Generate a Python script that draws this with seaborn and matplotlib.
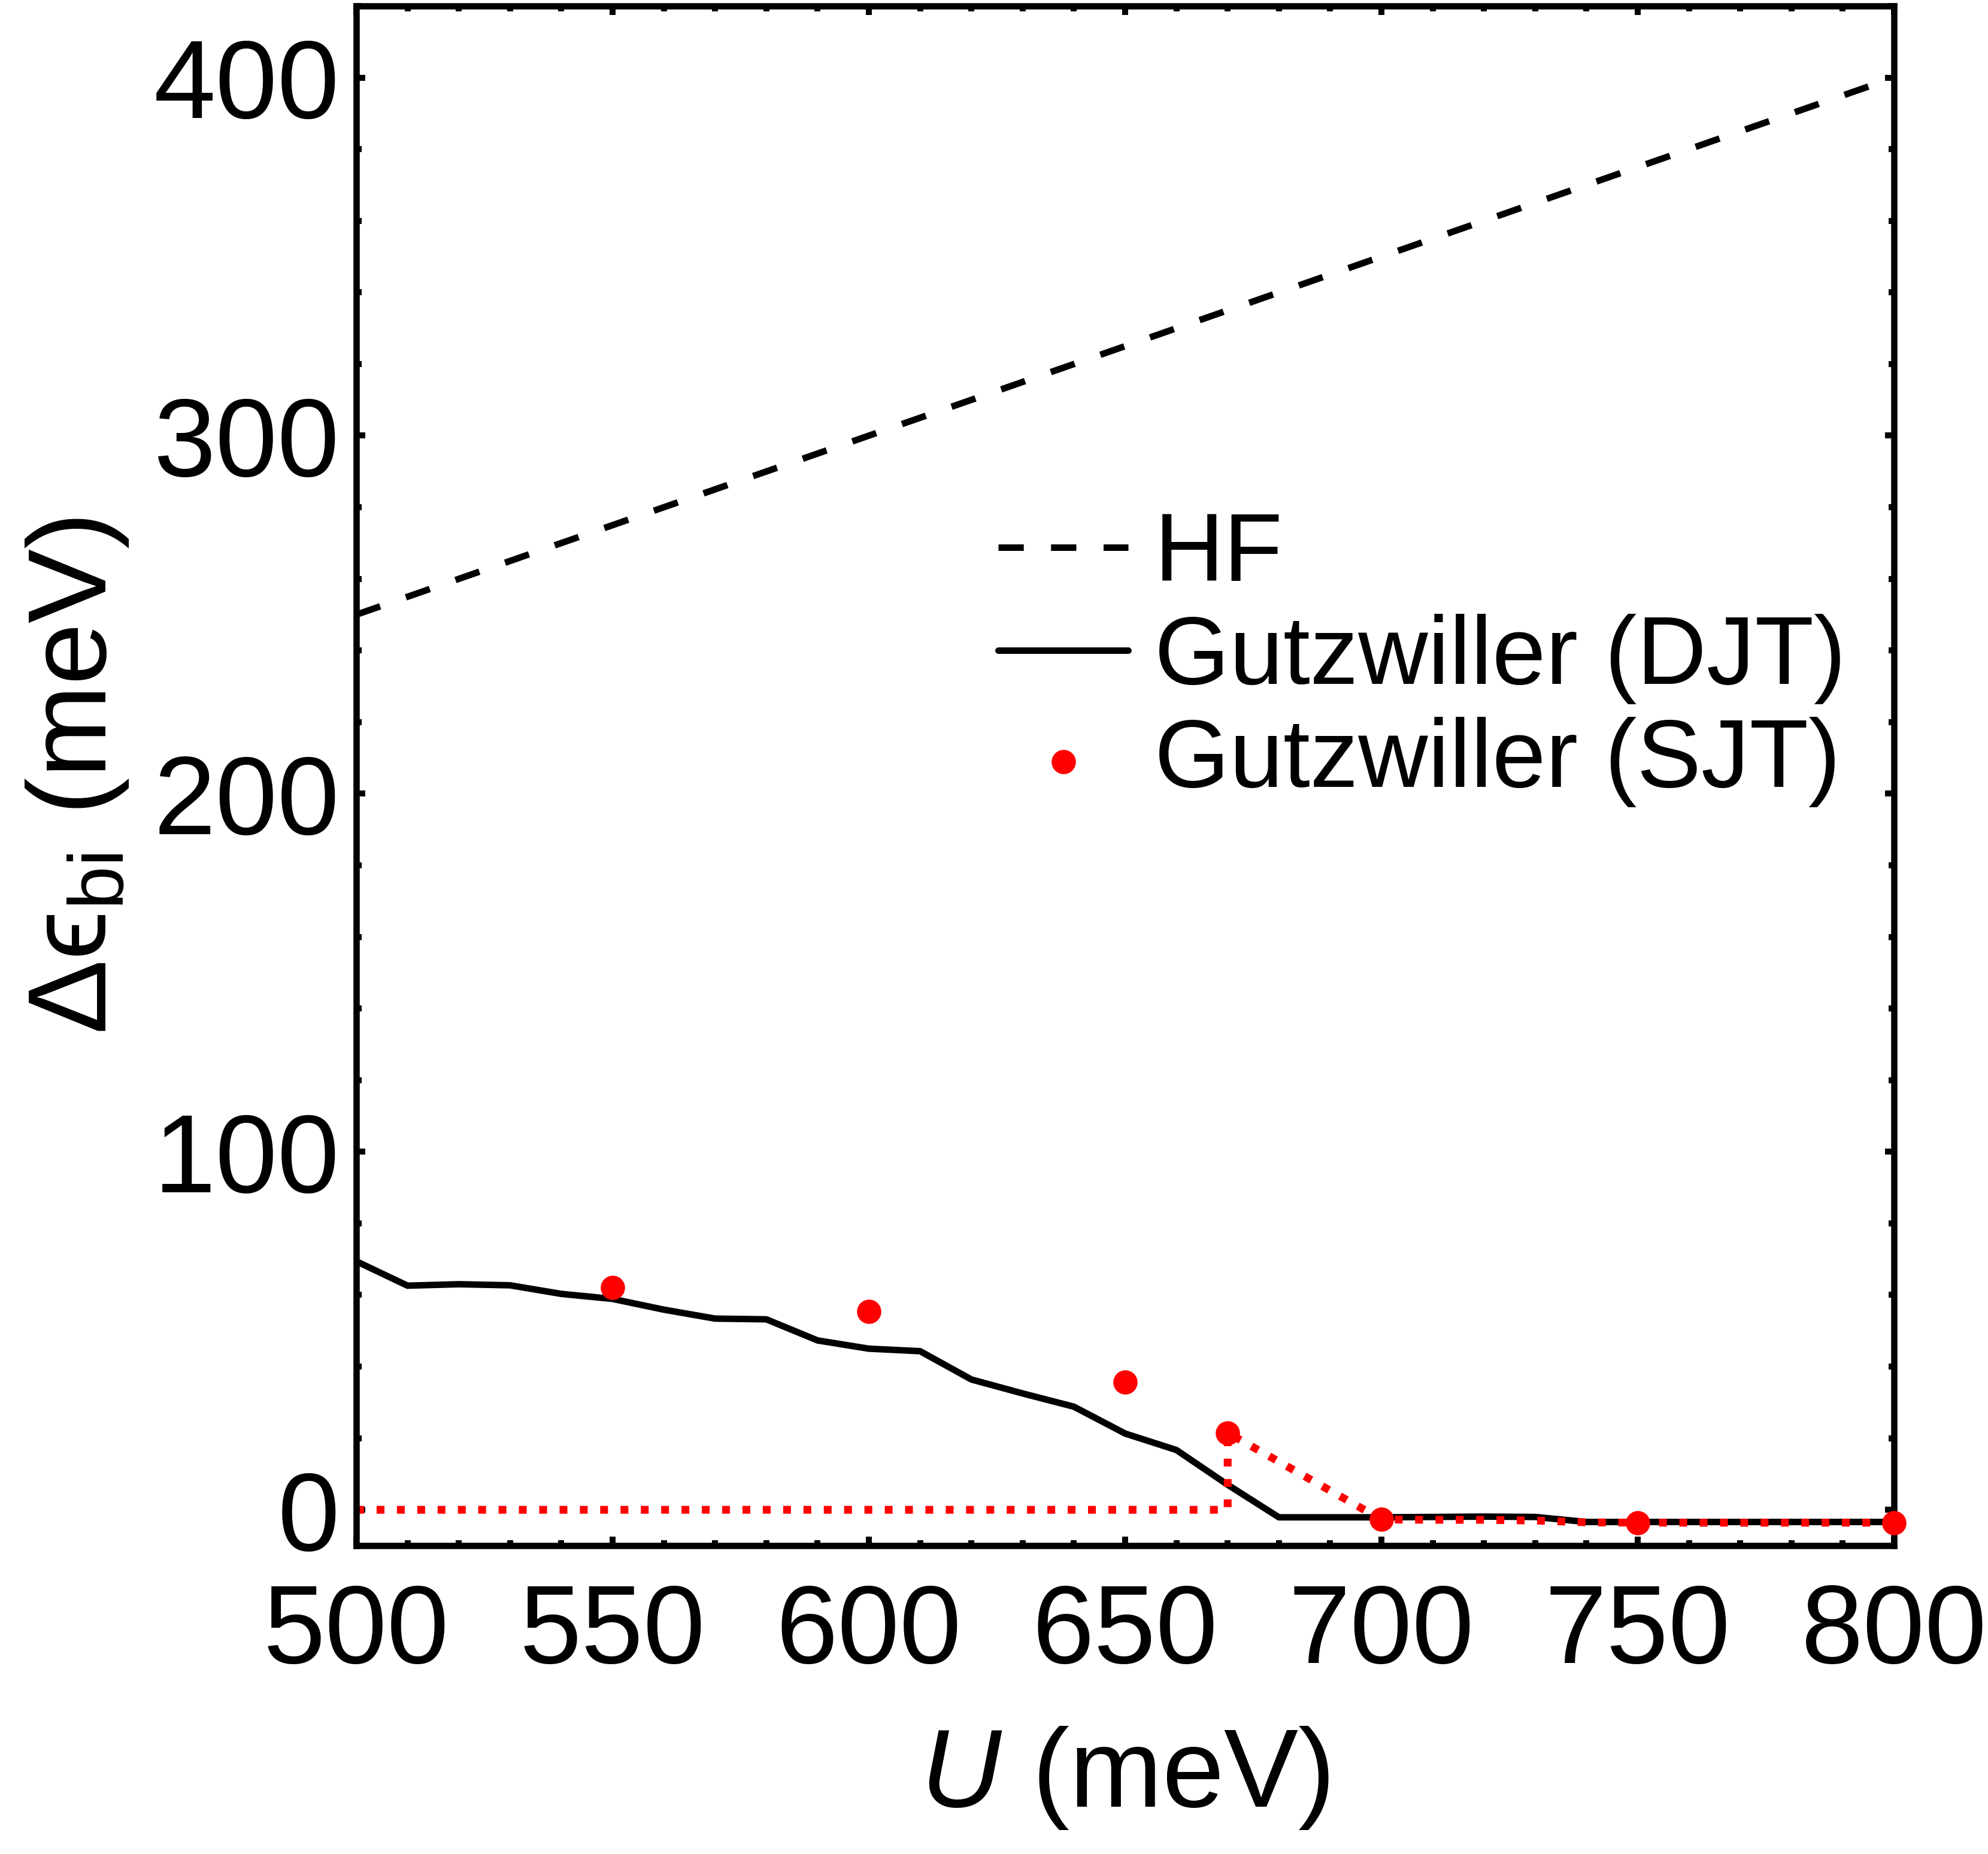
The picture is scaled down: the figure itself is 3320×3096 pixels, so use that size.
import numpy as np
import pandas as pd
import matplotlib
matplotlib.use("Agg")
import matplotlib.pyplot as plt
import seaborn as sns

# ---------------- data ----------------
U_hf = [500, 800]
gap_hf = [250, 400]

U_djt = [500, 510, 520, 530, 540, 550, 560, 570, 580, 590, 600, 610, 620, 630, 640,
         650, 660, 670, 680, 690, 700, 710, 720, 730, 740, 750, 760, 770, 780, 790, 800]
gap_djt = [69.4, 62.6, 63.0, 62.7, 60.3, 58.9, 55.9, 53.4, 53.2, 47.3, 45.0, 44.3, 36.4, 32.5, 28.8,
           21.3, 16.7, 7.0, -2.1, -2.1, -2.1, -2.0, -1.9, -2.0, -3.4, -3.4, -3.4, -3.4, -3.4, -3.4, -3.4]

U_sjt_pts = [550, 600, 650, 670, 700, 750, 800]
gap_sjt_pts = [62.1, 55.4, 35.6, 21.5, -2.7, -3.6, -3.6]

U_sjt_line = [500, 670, 670, 700, 710, 720, 730, 740, 750, 800]
gap_sjt_line = [0.0, 0.0, 21.5, -2.7, -2.8, -2.8, -3.0, -3.5, -3.6, -3.6]

xticks = [500, 550, 600, 650, 700, 750, 800]
yticks = [0, 100, 200, 300, 400]

# ---------------- style ----------------
sns.set_style("ticks")
plt.rcParams["font.family"] = ["Liberation Sans", "DejaVu Sans"]
plt.rcParams["mathtext.fontset"] = "custom"
plt.rcParams["mathtext.rm"] = "Liberation Sans"
plt.rcParams["mathtext.it"] = "Liberation Sans:italic"
plt.rcParams["mathtext.bf"] = "Liberation Sans:bold"
plt.rcParams["mathtext.fallback"] = "stixsans"
for k in ["text.color", "axes.labelcolor", "xtick.color", "ytick.color", "axes.edgecolor"]:
    plt.rcParams[k] = "black"

fig = plt.figure(figsize=(16.6, 15.48), dpi=200)
ax = fig.add_axes([0.17922, 0.16634, 0.77349, 0.83043])

df_hf = pd.DataFrame({"U": U_hf, "gap": gap_hf})
df_djt = pd.DataFrame({"U": U_djt, "gap": gap_djt})
df_pts = pd.DataFrame({"U": U_sjt_pts, "gap": gap_sjt_pts})
df_sl = pd.DataFrame({"U": U_sjt_line, "gap": gap_sjt_line})

sns.lineplot(data=df_hf, x="U", y="gap", ax=ax, color="black", lw=3.9,
             label="HF", estimator=None, sort=False)
ax.lines[-1].set_dashes([3.9, 4.2])
sns.lineplot(data=df_djt, x="U", y="gap", ax=ax, color="black", lw=3.9,
             label="Gutzwiller (DJT)", estimator=None, sort=False)
sns.lineplot(data=df_sl, x="U", y="gap", ax=ax, color="#ff0000", lw=4.7,
             estimator=None, sort=False, legend=False)
ax.lines[-1].set_dashes([1.0, 1.6])
sns.scatterplot(data=df_pts, x="U", y="gap", ax=ax, color="#ff0000", s=14.6**2,
                linewidth=0, label="Gutzwiller (SJT)", zorder=5, clip_on=False)

ax.set_xlim(500, 800)
ax.set_ylim(-10, 420)
ax.set_xticks(xticks)
ax.set_yticks(yticks)
ax.set_xticks(np.arange(500, 801, 10), minor=True)
ax.set_yticks(np.arange(0, 421, 20), minor=True)

for s in ax.spines.values():
    s.set_linewidth(3.8)
    s.set_color("black")

ax.tick_params(which="both", direction="in", top=True, right=True, width=3.6, color="black")
ax.tick_params(which="major", length=5.4)
ax.tick_params(which="minor", length=3.4)
ax.tick_params(axis="x", which="major", labelsize=67, pad=22)
ax.tick_params(axis="y", which="major", labelsize=67, pad=10)

ax.set_xlabel(r"$U$ (meV)", fontsize=67, labelpad=23)
ax.set_ylabel(r"$\Delta\mathrm{ϵ}_{\mathrm{bi}}$ (meV)", fontsize=67, labelpad=14)

leg = ax.legend(loc="upper left", bbox_to_anchor=(0.4174, 0.672), frameon=False,
                fontsize=58, handlelength=1.35, handletextpad=0.27, labelspacing=0.13,
                borderpad=0, borderaxespad=0)

fig.savefig("out.png", dpi=200)
